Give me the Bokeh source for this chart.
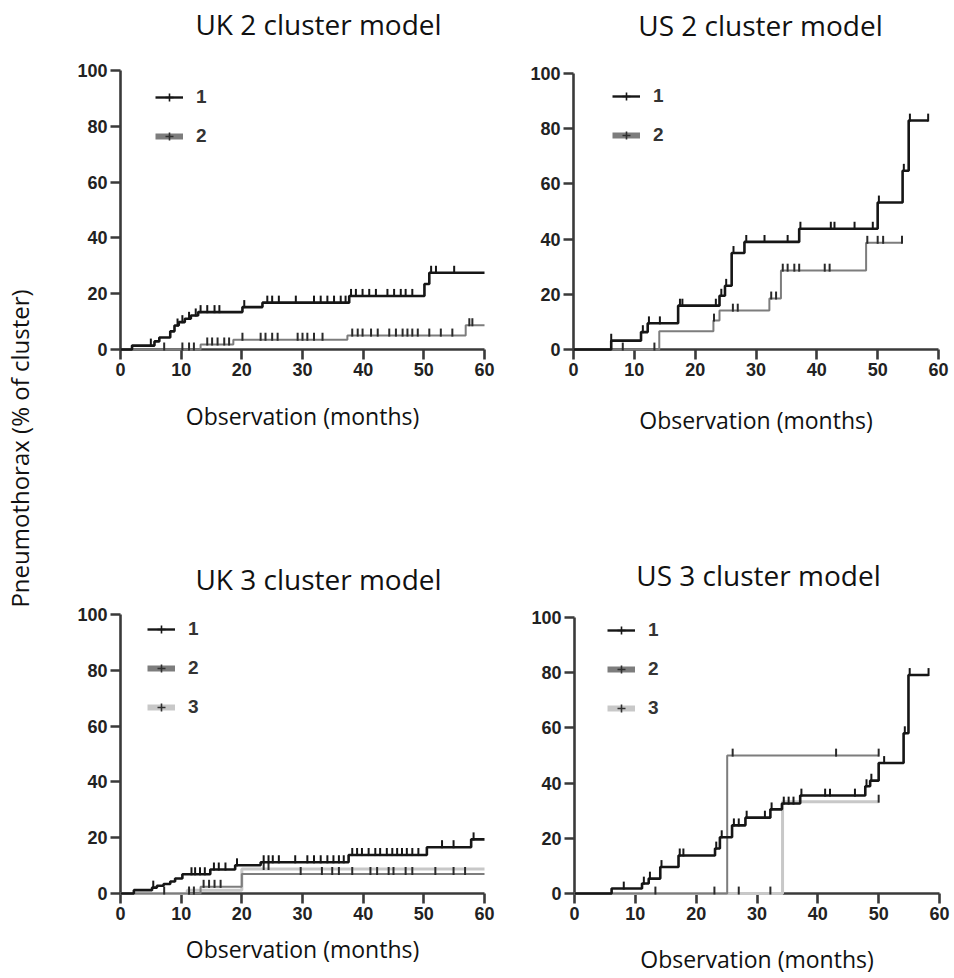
import numpy as np
from bokeh.plotting import figure
from bokeh.models import Range1d, FixedTicker, Legend, LegendItem, Title, Label
from bokeh.layouts import row, column
from bokeh.embed import file_html
from bokeh.resources import INLINE

# ---- Kaplan-Meier style cumulative incidence (% of cluster) ----
# UK, 2 clusters
uk2_c1_t = [0, 1.9, 5.6, 6.4, 8.2, 8.9, 9.6, 10.6, 11.6, 12.8, 20.1, 23.4, 37.7, 50.1, 50.9, 60]
uk2_c1_v = [0, 1.4, 2.9, 4.3, 6.5, 8.6, 9.8, 11.0, 12.2, 13.4, 15.2, 16.8, 19.2, 23.5, 27.5, 27.5]
uk2_c1_cens = [5.0, 9.4, 10.2, 11.3, 12.4, 13.2, 14.3, 15.5, 16.3, 20.4, 24.2, 25.0, 26.1, 28.9,
               31.9, 33.0, 34.1, 35.2, 36.3, 37.1, 38.0, 38.8, 39.9, 41.0, 42.1, 44.0, 45.1, 46.2,
               47.0, 48.1, 51.2, 52.0, 55.0]
uk2_c2_t = [0, 13.2, 18.6, 37.4, 56.9, 60]
uk2_c2_v = [0, 1.8, 3.5, 5.0, 8.7, 8.7]
uk2_c2_cens = [7.2, 10.2, 11.3, 12.1, 14.3, 15.1, 16.0, 17.1, 17.9, 20.1, 23.1, 23.9, 25.0, 25.9,
               29.2, 30.0, 30.8, 31.9, 33.3, 38.2, 39.1, 39.9, 41.3, 42.4, 44.3, 45.4, 46.5, 47.3,
               48.1, 49.0, 50.9, 52.8, 54.7, 57.5, 58.0]

# US, 2 clusters
us2_c1_t = [0, 6.2, 11.1, 12.2, 17.2, 24.0, 24.9, 26.0, 28.1, 37.1, 50.0, 54.1, 55.1, 58.3]
us2_c1_v = [0, 3.2, 6.3, 9.5, 15.9, 19.5, 23.1, 35.0, 39.0, 43.8, 53.3, 64.8, 83.0, 83.0]
us2_c1_cens = [6.2, 11.4, 12.4, 14.2, 17.5, 17.9, 23.4, 24.3, 25.1, 26.3, 28.4, 31.4, 35.2, 37.3,
               42.3, 42.9, 46.2, 49.2, 50.2, 54.3, 55.3, 58.3]
us2_c2_t = [0, 14.1, 23.0, 24.0, 32.2, 34.1, 48.1, 54.0]
us2_c2_v = [0, 6.6, 10.5, 14.1, 18.5, 28.6, 38.7, 38.7]
us2_c2_cens = [8.1, 13.3, 23.1, 26.2, 27.0, 32.5, 33.3, 34.4, 35.2, 36.3, 37.1, 41.3, 42.1, 48.3,
               50.0, 50.9, 54.0]

# UK, 3 clusters
uk3_c1_t = [0, 2.2, 5.2, 6.0, 7.1, 8.2, 9.0, 10.2, 14.8, 18.9, 23.1, 37.6, 50.5, 57.8, 60]
uk3_c1_v = [0, 1.2, 2.1, 2.8, 3.4, 4.3, 5.4, 6.9, 8.6, 10.1, 11.2, 13.8, 16.6, 19.4, 19.4]
uk3_c1_cens = [5.4, 11.7, 12.3, 13.1, 13.9, 15.4, 16.2, 17.3, 19.2, 23.6, 24.4, 25.1, 26.1, 28.8,
               30.8, 31.9, 33.0, 34.1, 35.1, 36.0, 36.8, 38.2, 39.0, 39.8, 40.9, 42.0, 42.8, 43.9,
               44.8, 45.6, 46.4, 47.2, 48.1, 49.1, 53.0, 54.9, 58.2]
uk3_c2_t = [0, 13.2, 20.0, 60]
uk3_c2_v = [0, 2.4, 7.0, 7.0]
uk3_c2_cens = [7.2, 11.3, 12.1, 13.7, 14.6, 15.5, 16.5, 29.7, 33.2, 34.9, 36.0, 38.2, 41.2, 42.3,
               44.2, 45.0, 47.0, 48.1, 51.9, 54.9, 56.8]
uk3_c3_t = [0, 11.0, 20.0, 60]
uk3_c3_v = [0, 1.2, 8.8, 8.8]
uk3_c3_cens = [23.6, 24.4]

# US, 3 clusters
us3_c1_t = [0, 6.1, 11.1, 12.2, 14.1, 17.1, 23.1, 23.9, 25.9, 28.1, 32.2, 34.1, 37.1, 47.8, 48.6,
            50.0, 54.1, 54.9, 58.2]
us3_c1_v = [0, 1.8, 3.6, 5.4, 9.6, 13.8, 16.3, 20.4, 24.7, 27.5, 30.5, 32.6, 35.5, 38.9, 40.9,
            47.3, 58.1, 79.2, 79.2]
us3_c1_cens = [8.1, 11.4, 12.4, 14.3, 17.3, 17.9, 23.3, 24.2, 26.2, 27.0, 28.3, 31.3, 32.4, 34.4,
               35.2, 36.0, 37.3, 41.2, 42.0, 46.1, 48.0, 48.8, 50.9, 54.3, 55.1, 58.2]
us3_c2_t = [0, 25.1, 50.0]
us3_c2_v = [0, 50.0, 50.0]
us3_c2_cens = [13.3, 23.0, 26.0, 43.0, 50.0]
us3_c3_t = [0, 34.2, 50.0]
us3_c3_v = [0, 33.3, 33.3]
us3_c3_cens = [27.0, 32.2, 50.0]

x_ticks = [0, 10, 20, 30, 40, 50, 60]
y_ticks = [0, 20, 40, 60, 80, 100]

INK = "#161616"
AXIS = "#3a3a3a"
MID = "#7d7d7d"
LIGHT = "#c8c8c8"
LABEL_FONT = "Open Sans"
TICK_FONT = "Liberation Sans"

# plotted curve styles and legend swatch styles per cluster
CURVE_STYLE = {1: (INK, 2.6), 2: (MID, 2.0), 3: (LIGHT, 3.0)}
SWATCH_STYLE = {1: (INK, 2.4), 2: (MID, 6.0), 3: (LIGHT, 6.0)}
TICK_PX = 7
AXIS_PX = 279          # pixel height of the 0-100 % span


def panel(title, title_xy, width, height, borders, axis_standoff, legend_xy, curves):
    left, right, bottom = borders
    frame_h = height - bottom
    y_top = 100.0 * frame_h / AXIS_PX   # headroom above 100 % holds the panel heading
    p = figure(width=width, height=height, x_range=Range1d(0, 60), y_range=Range1d(0, y_top),
               toolbar_location=None, output_backend="svg",
               min_border_left=left, min_border_right=right,
               min_border_top=0, min_border_bottom=bottom)
    p.grid.visible = False
    p.outline_line_color = None
    p.background_fill_color = "white"
    p.border_fill_color = "white"

    # panel heading, positioned in screen pixels relative to the frame corner
    p.add_layout(Label(x=title_xy[0], y=title_xy[1], x_units="screen", y_units="screen",
                       text=title, text_align="center", text_baseline="middle",
                       text_font=LABEL_FONT, text_font_size="28px", text_color="#111111"))

    for ax, ticks in ((p.xaxis[0], x_ticks), (p.yaxis[0], y_ticks)):
        ax.ticker = FixedTicker(ticks=ticks)
        ax.axis_line_color = AXIS
        ax.axis_line_width = 2.6
        ax.major_tick_line_color = AXIS
        ax.major_tick_line_width = 2.6
        ax.major_tick_out = 10
        ax.major_tick_in = 0
        ax.minor_tick_line_color = None
        ax.major_label_text_font = TICK_FONT
        ax.major_label_text_font_style = "bold"
        ax.major_label_text_font_size = "18px"
        ax.major_label_text_color = "#222222"
        ax.major_label_standoff = 3
    p.yaxis.bounds = (0, 100)
    p.xaxis.axis_label = "Observation (months)"
    p.xaxis.axis_label_text_font = LABEL_FONT
    p.xaxis.axis_label_text_font_style = "normal"
    p.xaxis.axis_label_text_font_size = "23px"
    p.xaxis.axis_label_text_color = "#111111"
    p.xaxis.axis_label_standoff = axis_standoff

    tick_h = TICK_PX * 100.0 / AXIS_PX

    # lighter clusters first so cluster 1 sits on top; curves drawn over the axes
    for k, t, v, cens in reversed(curves):
        color, lw = CURVE_STYLE[k]
        r = p.step(t, v, mode="after", line_color=color, line_width=lw)
        r.level = "overlay"
        t_arr = np.asarray(t, dtype=float)
        v_arr = np.asarray(v, dtype=float)
        c_arr = np.asarray(cens, dtype=float)
        idx = np.searchsorted(t_arr, c_arr, side="right") - 1
        cy = v_arr[idx]
        s = p.segment(x0=c_arr, y0=cy - 0.15 * tick_h, x1=c_arr, y1=cy + tick_h,
                      line_color=INK if k == 1 else "#2a2a2a", line_width=2.0)
        s.level = "overlay"

    items = []
    for k, *_ in curves:
        color, lw = SWATCH_STYLE[k]
        r_line = p.line(x=[np.nan], y=[np.nan], line_color=color, line_width=lw)
        r_tick = p.scatter(x=[np.nan], y=[np.nan], marker="cross", size=8,
                           line_color=INK if k == 1 else "#303030", line_width=1.6)
        items.append(LegendItem(label=str(k), renderers=[r_line, r_tick]))
    legend = Legend(items=items, location=legend_xy, glyph_width=28, glyph_height=20,
                    label_height=20, label_standoff=13, spacing=17, padding=0, margin=0,
                    border_line_color=None, background_fill_alpha=0,
                    label_text_font=TICK_FONT, label_text_font_style="bold",
                    label_text_font_size="19px", label_text_color="#333333")
    p.add_layout(legend)
    return p


p_uk2 = panel("UK 2 cluster model", (198, 326), 480, 540, (80, 36, 191), 21, (35, 202),
              [(1, uk2_c1_t, uk2_c1_v, uk2_c1_cens), (2, uk2_c2_t, uk2_c2_v, uk2_c2_cens)])
p_us2 = panel("US 2 cluster model", (187, 325), 434, 540, (53, 16, 187), 25, (39, 203),
              [(1, us2_c1_t, us2_c1_v, us2_c1_cens), (2, us2_c2_t, us2_c2_v, us2_c2_cens)])
p_uk3 = panel("UK 3 cluster model", (198, 315), 480, 438, (80, 36, 85), 10, (27, 175),
              [(1, uk3_c1_t, uk3_c1_v, uk3_c1_cens), (2, uk3_c2_t, uk3_c2_v, uk3_c2_cens),
               (3, uk3_c3_t, uk3_c3_v, uk3_c3_cens)])
p_us3 = panel("US 3 cluster model", (184, 319), 434, 438, (54, 15, 81), 20, (33, 174),
              [(1, us3_c1_t, us3_c1_v, us3_c1_cens), (2, us3_c2_t, us3_c2_v, us3_c2_cens),
               (3, us3_c3_t, us3_c3_v, us3_c3_cens)])

# shared y label in a narrow strip on the left
ylab = figure(width=40, height=978, x_range=Range1d(0, 1), y_range=Range1d(0, 1),
              toolbar_location=None, output_backend="svg",
              min_border_left=0, min_border_right=0, min_border_top=0, min_border_bottom=82)
ylab.axis.visible = False
ylab.grid.visible = False
ylab.outline_line_color = None
ylab.add_layout(Title(text="Pneumothorax (% of cluster)", align="center", text_font=LABEL_FONT,
                      text_font_size="24px", text_font_style="normal", text_color="#111111",
                      standoff=0), "left")

layout = row(ylab, column(row(p_uk2, p_us2), row(p_uk3, p_us3)))

with open("out.html", "w") as f:
    f.write(file_html(layout, INLINE))
